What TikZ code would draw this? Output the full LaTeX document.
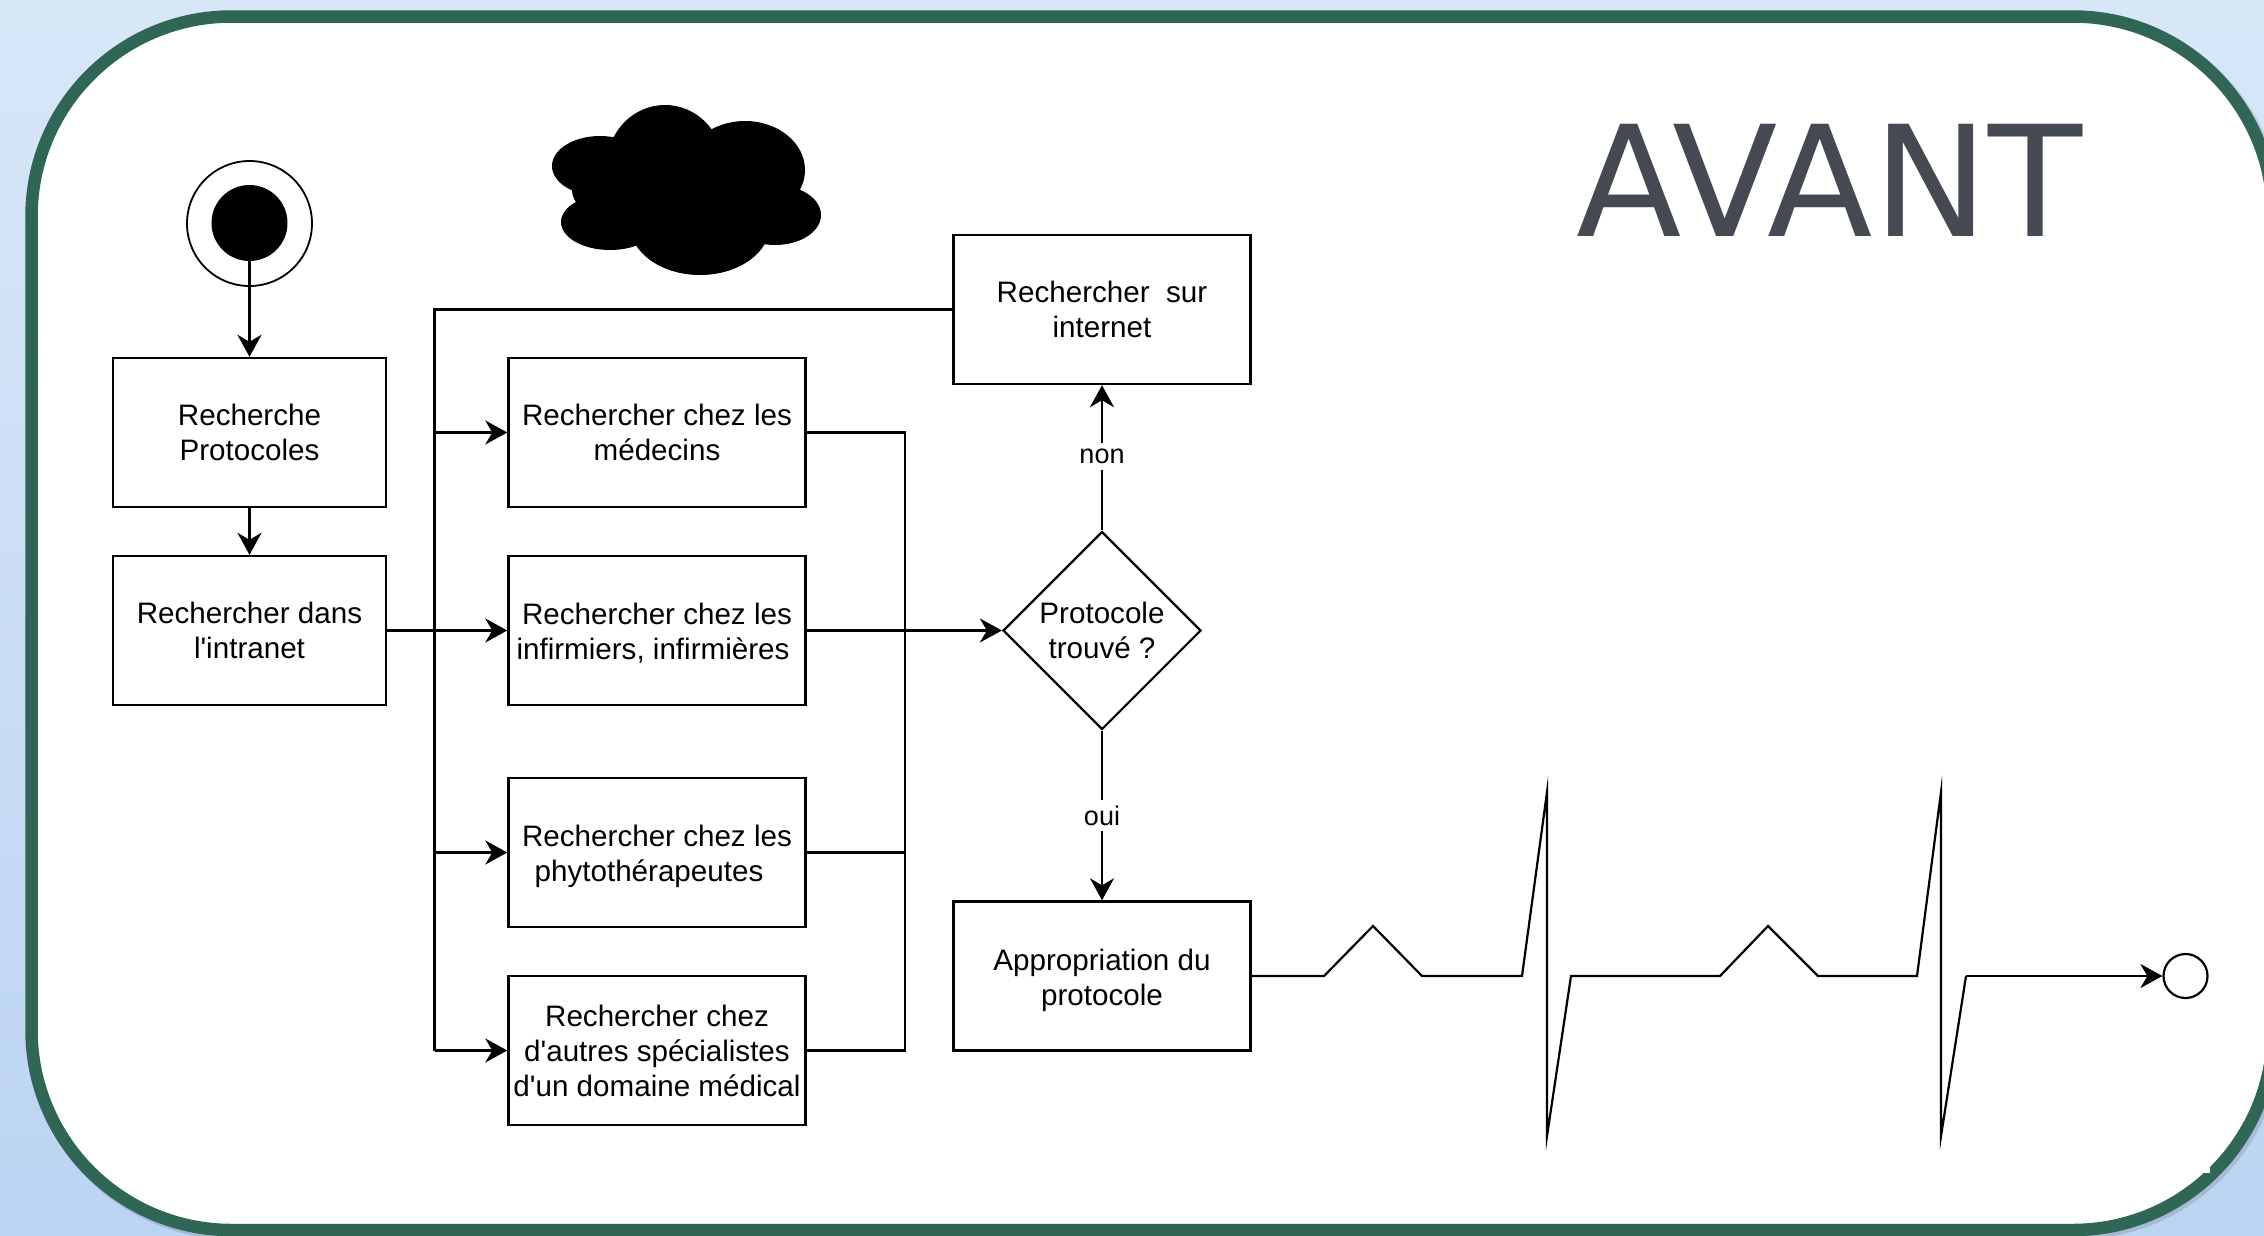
\documentclass[tikz,border=0pt]{standalone}
\usepackage{fontspec}
\setmainfont{Liberation Sans}
\newfontfamily\titlefont{DejaVu Sans}
\usetikzlibrary{shapes.geometric,arrows.meta}
\definecolor{ringgreen}{HTML}{2F6655}
\definecolor{bgtop}{HTML}{D8E7F8}
\definecolor{bgbot}{HTML}{BCD4F2}
\definecolor{titlegrey}{HTML}{454A52}
\newcommand{\lowerby}[1]{\rule{0pt}{#1pt}}
\tikzset{
  boxtext/.style={font=\fontsize{29.6}{35}\selectfont,align=center,inner sep=0pt},
  stepbox/.style={boxtext,draw=black,line width=2.4pt,fill=white,rectangle},
  widebox/.style={stepbox,minimum width=297pt,minimum height=149pt},
  narrowbox/.style={stepbox,minimum width=273pt,minimum height=149pt},
  flow/.style={line width=2.4pt,draw=black},
  flowarrow/.style={flow,-{Stealth[length=22pt,width=24pt,inset=7pt]}},
  edgelabel/.style={font=\fontsize{27}{30}\selectfont,fill=white,inner xsep=2pt,inner ysep=6pt},
  pulse/.style={line width=2.2pt,draw=black,line join=miter,miter limit=20},
}
\begin{document}
\begin{tikzpicture}[x=1pt,y=-1pt]
\useasboundingbox (0,0) rectangle (2264,1235);
\shade[top color=bgtop,bottom color=bgbot] (0,0) rectangle (2264,1235);
% soft shadow of the frame
\draw[line width=14pt,draw=black,opacity=.12,shift={(2.5,2.5)}]
  (231.5,16.5) -- (2073,16.5) arc[start angle=-90,end angle=0,radius=200]
  -- (2273,1030) arc[start angle=0,end angle=90,radius=200]
  -- (231.5,1230) arc[start angle=90,end angle=180,radius=200]
  -- (31.5,216.5) arc[start angle=180,end angle=270,radius=200] -- cycle;
% rounded frame
\draw[line width=12.5pt,draw=ringgreen,fill=white]
  (231.5,16.5) -- (2073,16.5) arc[start angle=-90,end angle=0,radius=200]
  -- (2273,1030) arc[start angle=0,end angle=90,radius=200]
  -- (231.5,1230) arc[start angle=90,end angle=180,radius=200]
  -- (31.5,216.5) arc[start angle=180,end angle=270,radius=200] -- cycle;
\fill[white] (2185,1150) rectangle (2210,1173.3);
% title
\node[font=\titlefont\fontsize{154}{154}\selectfont,text=titlegrey,inner sep=0pt,anchor=base] (title) at (1829.5,236) {AVANT};
% cloud
\fill[black]
  (665,165) ellipse[x radius=58,y radius=60]
  (745,170) ellipse[x radius=60,y radius=49]
  (600,166) ellipse[x radius=48,y radius=30]
  (610,222) ellipse[x radius=49,y radius=28]
  (700,225) ellipse[x radius=70,y radius=50]
  (775,215) ellipse[x radius=46,y radius=30]
  (680,190) ellipse[x radius=108,y radius=45];
% start
\node[circle,draw=black,line width=1.8pt,fill=white,minimum size=125pt,inner sep=0pt] (ring) at (249.5,223.5) {};
\node[circle,fill=black,minimum size=76pt,inner sep=0pt] (dot) at (249.5,223) {};
% boxes
\node[narrowbox] (protos) at (249.5,432.5) {Recherche\\Protocoles};
\node[narrowbox] (intranet) at (249.5,630.5) {Rechercher dans\\l\textquotesingle intranet};
\node[widebox] (med) at (657,432.5) {Rechercher chez les\\médecins};
\node[widebox] (inf) at (657,630.5) {\lowerby{26}Rechercher chez les\\infirmiers, infirmières\hspace*{8pt}};
\node[widebox] (phyto) at (657,852.5) {\lowerby{29}Rechercher chez les\\phytothérapeutes\hspace*{16pt}};
\node[widebox] (autres) at (657,1050.5) {Rechercher chez\\d\textquotesingle autres spécialistes\\d\textquotesingle un domaine médical};
\node[widebox] (web) at (1102,309.5) {Rechercher~ sur\\internet};
\node[diamond,boxtext,draw=black,line width=2.2pt,fill=white,aspect=1,minimum width=198pt,minimum height=198pt] (found) at (1102,630.5) {Protocole\\trouvé ?};
\node[widebox] (approp) at (1102,976) {\lowerby{31}Appropriation du\\protocole};
\node[circle,draw=black,line width=2.2pt,fill=white,minimum size=44pt,inner sep=0pt] (end) at (2185.5,976) {};
% buses
\coordinate (busL) at (434.5,309.5);
\coordinate (busR) at (905,432.5);
\draw[flowarrow] (dot) -- (protos);
\draw[flowarrow] (protos) -- (intranet);
\draw[flowarrow] (intranet) -- (inf);
\draw[flow] (web) -- (busL) -- (busL|-autres.west);
\draw[flowarrow] (busL|-med.west) -- (med);
\draw[flowarrow] (busL|-phyto.west) -- (phyto);
\draw[flowarrow] (busL|-autres.west) -- (autres);
\draw[flow] (med) -- (busR) -- (busR|-autres.east) -- (autres);
\draw[flow] (phyto) -- (busR|-phyto.east);
\draw[flowarrow] (inf) -- (found);
\draw[flowarrow] (found.north) -- node[edgelabel,pos=.51] (nonlab) {non} (web.south);
\draw[flowarrow] (found.south) -- node[edgelabel,pos=.5] (ouilab) {oui} (approp.north);
% pulses
\coordinate (p1) at (1324,976);
\coordinate (p2) at (1373,926);
\coordinate (p3) at (1422,976);
\coordinate (p4) at (1522,976);
\coordinate (p5) at (1547,792);
\coordinate (p6) at (1547,1136);
\coordinate (p7) at (1571,976);
\coordinate (q1) at (1720,976);
\coordinate (q2) at (1768,926);
\coordinate (q3) at (1818,976);
\coordinate (q4) at (1917,976);
\coordinate (q5) at (1941,792);
\coordinate (q6) at (1941,1136);
\coordinate (q7) at (1966,976);
\draw[pulse] (approp.east) -- (p1) -- (p2) -- (p3) -- (p4) -- (p5) -- (p6) -- (p7) -- (q1) -- (q2) -- (q3) -- (q4) -- (q5) -- (q6) -- (q7);
\draw[flowarrow] (q7) -- (end);
\end{tikzpicture}
\end{document}
